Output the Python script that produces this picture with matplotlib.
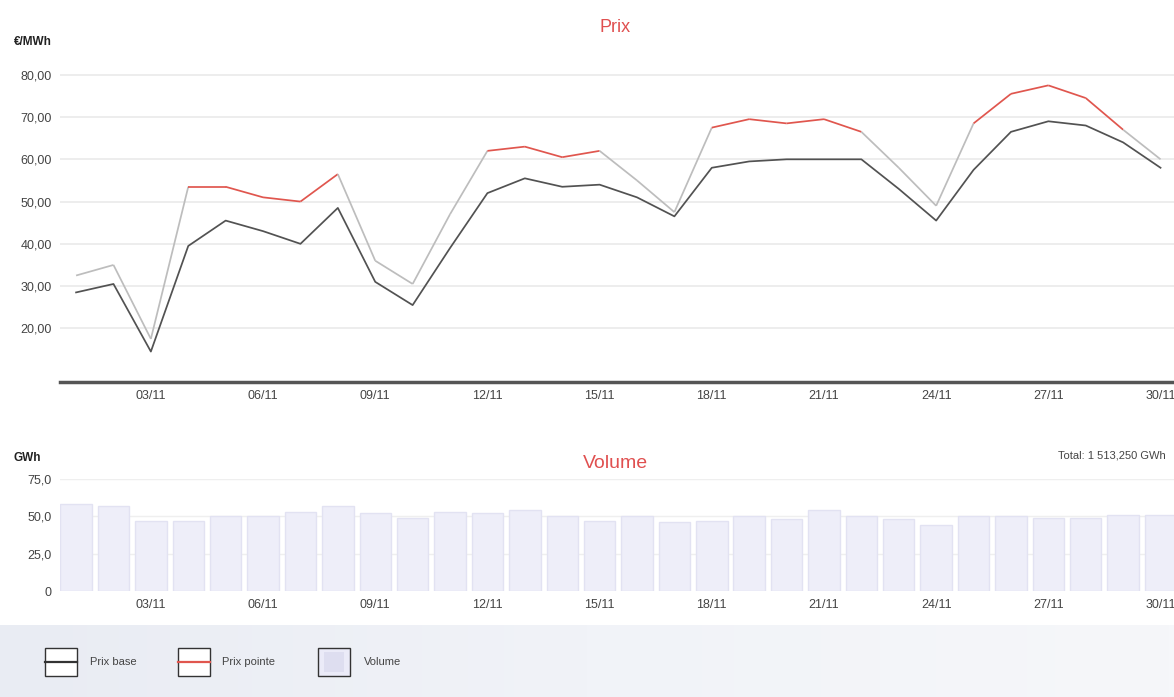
import matplotlib
matplotlib.use("Agg")
import matplotlib.pyplot as plt
from matplotlib.collections import LineCollection
from matplotlib.patches import Rectangle
import numpy as np

plt.rcParams['font.family'] = ['Liberation Sans', 'DejaVu Sans']

# --- data -------------------------------------------------------------
days = [f"{d:02d}/11" for d in range(1, 31)]
prix_base = [28.5, 30.5, 14.5, 39.5, 45.5, 43.0, 40.0, 48.5, 31.0, 25.5,
             39.0, 52.0, 55.5, 53.5, 54.0, 51.0, 46.5, 58.0, 59.5, 60.0,
             60.0, 60.0, 53.0, 45.5, 57.5, 66.5, 69.0, 68.0, 64.0, 58.0]
prix_pointe = [32.5, 35.0, 17.5, 53.5, 53.5, 51.0, 50.0, 56.5, 36.0, 30.5,
               47.0, 62.0, 63.0, 60.5, 62.0, 55.0, 47.5, 67.5, 69.5, 68.5,
               69.5, 66.5, 58.0, 49.0, 68.5, 75.5, 77.5, 74.5, 67.0, 60.0]
# working days (weekends and public holidays excluded)
jour_ouvre = [False, False, False, True, True, True, True, True, False, False,
              False, True, True, True, True, False, False, True, True, True,
              True, True, False, False, True, True, True, True, True, False]
volume = [58, 57, 47, 47, 50, 50, 53, 57, 52, 49,
          53, 52, 54, 50, 47, 50, 46, 47, 50, 48,
          54, 50, 48, 44, 50, 50, 49, 49, 51, 51]
prix_ticks = [20, 30, 40, 50, 60, 70, 80]
vol_ticks = [0, 25, 50, 75]
total_volume = "1 513,250"

# --- figure -----------------------------------------------------------
W, H = 1174, 697
fig = plt.figure(figsize=(W / 100, H / 100), dpi=100)
fig.patch.set_facecolor('white')

def px_axes(x0, y0, x1, y1):
    return fig.add_axes([x0 / W, 1 - y1 / H, (x1 - x0) / W, (y1 - y0) / H])

x = np.arange(len(days))
tick_idx = list(range(2, len(days), 3))
xlim = (-0.43, 29.36)
txt_col = '#444444'

# price chart
ax = px_axes(60, 41, 1174, 382)
ax.set_xlim(*xlim)
ax.set_ylim(7.3, 88)
for v in prix_ticks:
    ax.axhline(v, color='#e8e8e8', lw=1.1, zorder=0)
ax.plot(x, prix_base, color='#525252', lw=1.25, zorder=3)

pts = np.column_stack([x, prix_pointe])
segs = np.stack([pts[:-1], pts[1:]], axis=1)
seg_cols = ['#e0564e' if (jour_ouvre[i] and jour_ouvre[i + 1]) else '#bdbdbd'
            for i in range(len(segs))]
ax.add_collection(LineCollection(segs, colors=seg_cols, linewidths=1.25, zorder=2))

for s in ['top', 'right', 'left']:
    ax.spines[s].set_visible(False)
ax.spines['bottom'].set_color('#555555')
ax.spines['bottom'].set_linewidth(2.5)
ax.set_yticks(prix_ticks)
ax.set_yticklabels([f"{v:.2f}".replace('.', ',') for v in prix_ticks])
ax.set_xticks(tick_idx)
ax.set_xticklabels([days[i] for i in tick_idx])
ax.tick_params(axis='both', length=0, labelsize=9, colors=txt_col)
ax.tick_params(axis='y', pad=6)
ax.tick_params(axis='x', pad=6)
fig.text(14 / W, 1 - 42 / H, '€/MWh', fontsize=8.5, fontweight='bold',
         color='#222222', va='center', ha='left')
fig.text(615 / W, 1 - 28 / H, 'Prix', fontsize=13, color='#e05050',
         va='center', ha='center')

# volume chart
axv = px_axes(60, 479, 1174, 591)
axv.set_xlim(*xlim)
axv.set_ylim(0, 75)
for v in vol_ticks[1:]:
    axv.axhline(v, color='#efefef', lw=1.0, zorder=0)
axv.bar(x, volume, width=0.84, color='#eeeef9', edgecolor='#e2e2f2',
        linewidth=1.0, zorder=1)
for s in ['top', 'right', 'left', 'bottom']:
    axv.spines[s].set_visible(False)
axv.set_yticks(vol_ticks)
axv.set_yticklabels(['0'] + [f"{v:.1f}".replace('.', ',') for v in vol_ticks[1:]])
axv.set_xticks(tick_idx)
axv.set_xticklabels([days[i] for i in tick_idx])
axv.tick_params(axis='both', length=0, labelsize=9, colors=txt_col)
axv.tick_params(axis='y', pad=6)
axv.tick_params(axis='x', pad=6)
fig.text(14 / W, 1 - 458 / H, 'GWh', fontsize=8.5, fontweight='bold',
         color='#222222', va='center', ha='left')
fig.text(615 / W, 1 - 463 / H, 'Volume', fontsize=14, color='#e05050',
         va='center', ha='center')
fig.text(1166 / W, 1 - 455 / H, f'Total: {total_volume} GWh', fontsize=8,
         color=txt_col, va='center', ha='right')

# legend band
axl = px_axes(0, 625, W, H)
axl.set_xlim(0, W)
axl.set_ylim(H, 625)
axl.axis('off')
grad = np.linspace(0, 1, 256).reshape(1, -1)
axl.imshow(grad, extent=(0, W, H, 625), aspect='auto',
           cmap=matplotlib.colors.LinearSegmentedColormap.from_list(
               'band', ['#e9ecf3', '#f1f3f8', '#f6f7fa']), zorder=0)

legend_items = [('Prix base', '#333333', 'line', 45, 90),
                ('Prix pointe', '#e0564e', 'line', 178, 222),
                ('Volume', '#ebebf8', 'box', 318, 364)]
for label, col, kind, bx, tx in legend_items:
    if kind == 'box':
        axl.add_patch(Rectangle((bx, 648), 32, 28, facecolor=col,
                                edgecolor='#333333', lw=1.0, zorder=2))
        axl.add_patch(Rectangle((bx + 6, 652), 20, 20, facecolor='#dedef0',
                                edgecolor='none', zorder=3))
    else:
        axl.add_patch(Rectangle((bx, 648), 32, 28, facecolor='white',
                                edgecolor='#333333', lw=1.0, zorder=2))
        axl.plot([bx, bx + 32], [662, 662], color=col, lw=1.6, zorder=3)
    axl.text(tx, 662, label, fontsize=8, color=txt_col, va='center', ha='left')

fig.savefig('out.png', dpi=100, facecolor='white')
